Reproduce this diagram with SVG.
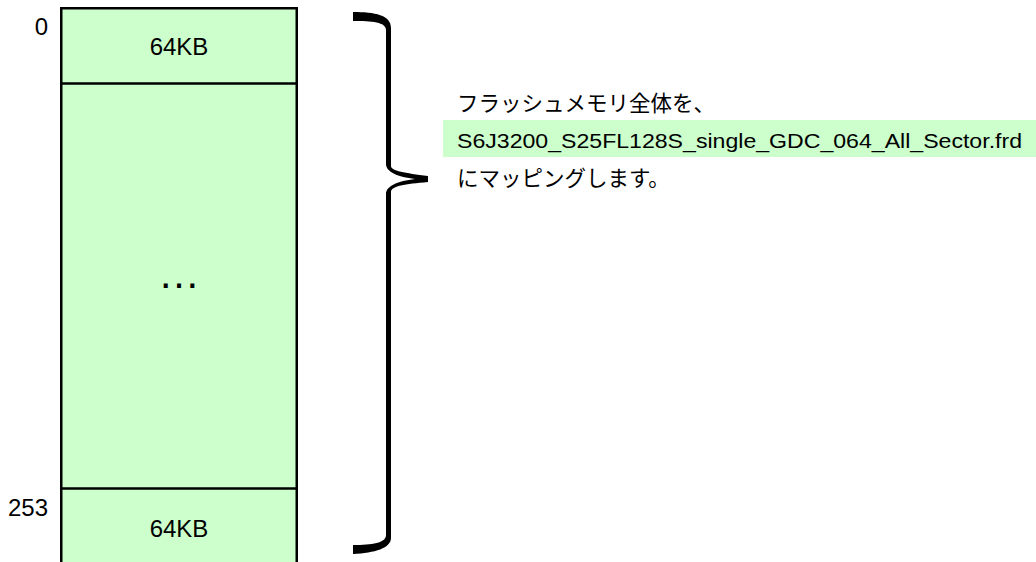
<svg xmlns="http://www.w3.org/2000/svg" width="1036" height="562" viewBox="0 0 1036 562">
<style>
.box{fill:#CCFFCC;stroke:#000;stroke-width:2.5}
.sep{stroke:#000;stroke-width:2.5}
.lat{font-family:"Liberation Sans",Arial,sans-serif;fill:#000}
.jp{font-family:"Noto Sans CJK JP","Noto Sans CJK SC",sans-serif;fill:#000;font-size:21.5px}
</style>
<rect width="1036" height="562" fill="#fff"/>
<g id="memory">
<rect class="box" x="61.25" y="8.25" width="235.5" height="600"/>
<line class="sep" x1="61" y1="83.5" x2="297" y2="83.5"/>
<line class="sep" x1="61" y1="488.5" x2="297" y2="488.5"/>
<text class="lat" x="179" y="55" font-size="24" text-anchor="middle">64KB</text>
<text class="lat" x="179" y="288" font-size="42" text-anchor="middle">…</text>
<text class="lat" x="179" y="537" font-size="24" text-anchor="middle">64KB</text>
</g>
<g id="labels">
<text class="lat" x="48" y="35" font-size="24" text-anchor="end">0</text>
<text class="lat" x="48" y="516" font-size="24" text-anchor="end">253</text>
</g>
<g id="connectors">
<path d="M353,12 C375,12 391,15 391,28 L391,166 C391,171 405,173 428,176 L428,182 C405,184 391,186 391,192 L391,538 C391,548 375,553 353,554 L353,545 C372,545 386,543 386,535 L386,194 C386,186 398,181 415,179 C398,177 386,172 386,164 L386,30 C386,22 372,21 353,21 Z" fill="#000"/>
</g>
<g id="note">
<rect x="443" y="120" width="593" height="37" fill="#CCFFCC"/>
<text class="jp" x="457" y="111">フラッシュメモリ全体を、</text>
<text class="lat" x="457" y="148" font-size="20" textLength="565" lengthAdjust="spacingAndGlyphs">S6J3200_S25FL128S_single_GDC_064_All_Sector.frd</text>
<text class="jp" x="457" y="186">にマッピングします。</text>
</g>
</svg>
